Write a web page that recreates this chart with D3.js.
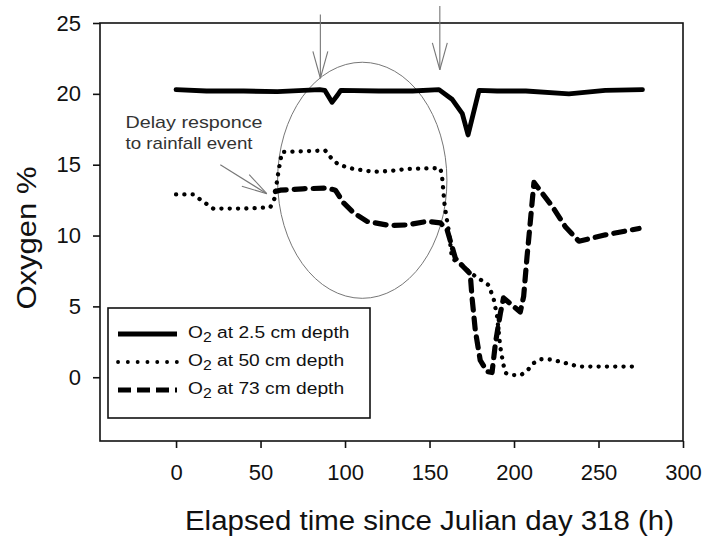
<!DOCTYPE html>
<html>
<head>
<meta charset="utf-8">
<script src="https://cdn.jsdelivr.net/npm/d3@7"></script>
<style>
  html, body { margin: 0; padding: 0; background: #fff; }
  svg { display: block; font-family: "Liberation Sans", Arial, sans-serif; }
</style>
</head>
<body>
<svg id="chart" width="704" height="541"></svg>
<script>
// ---------------- data ----------------
const xTicks = [0, 50, 100, 150, 200, 250, 300];
const yTicks = [0, 5, 10, 15, 20, 25];

const t25 = [0, 18, 40, 60, 85, 88, 92.3, 95.5, 97.5, 120, 140, 155.6, 163.5, 169.4, 172.8, 179.3, 190, 207, 232.5, 254, 276];
const v25 = [20.3, 20.2, 20.2, 20.15, 20.3, 20.25, 19.4, 19.9, 20.25, 20.2, 20.2, 20.3, 19.6, 18.6, 17.1, 20.25, 20.2, 20.2, 20.0, 20.25, 20.3];

const t50 = [0, 10, 16, 22, 40, 55.8, 58.2, 60.7, 62.7, 75, 88.3, 92.3, 96.2, 105, 116.9, 126, 136.7, 150, 156.4, 157.4, 158.8, 160, 161.3, 163.3, 170, 175, 180, 185, 188, 190, 191.8, 193.5, 195, 199, 204, 207.7, 211.6, 215.6, 222, 230.5, 238.4, 255, 274];
const v50 = [12.9, 12.9, 12.4, 11.9, 11.9, 12.0, 12.6, 14.6, 15.9, 15.95, 16.0, 15.4, 15.0, 14.7, 14.5, 14.55, 14.7, 14.75, 14.75, 14.2, 12.3, 11.3, 10.4, 8.4, 7.8, 7.3, 6.9, 6.5, 5.5, 4.3, 2.2, 1.0, 0.3, 0.15, 0.15, 0.45, 1.0, 1.27, 1.25, 1.0, 0.75, 0.75, 0.75];

const t73 = [58.8, 61.7, 75, 89.3, 94.3, 99.2, 105.1, 113, 126.8, 136.7, 148.5, 156.4, 160.4, 165.3, 170, 174.1, 175.1, 177.1, 180, 184, 187, 189, 191.9, 193.8, 203.7, 205.7, 207.7, 209.2, 211.8, 222.7, 230.5, 238.4, 254.2, 274];
const v73 = [13.1, 13.2, 13.3, 13.35, 13.2, 12.3, 11.6, 11.0, 10.7, 10.75, 11.0, 10.9, 10.4, 8.4, 7.8, 7.3, 5.7, 3.3, 1.2, 0.4, 0.33, 2.4, 4.5, 5.6, 4.6, 5.7, 8.5, 10.4, 13.75, 12.05, 10.6, 9.6, 10.05, 10.5];

const seriesNames = ["at 2.5 cm depth", "at 50 cm depth", "at 73 cm depth"];

// annotations (data units)
const arrowT = [85.4, 156.1];
const arrowTop = [25.6, 26.2];
const arrowTip = [21.1, 21.7];
const ellipseC = [110.2, 13.9];
const ellipseR = [50.1, 8.33];
const delayTail = [26.2, 15.0];
const delayTip = [53.7, 12.95];
const delayText = ["Delay responce", "to rainfall event"];
const delayTextPos = [[-29.9, 17.6], [-29.9, 16.1]];

// ---------------- chart ----------------
const svg = d3.select("#chart");
const x = d3.scaleLinear().domain([-45, 300]).range([100, 683]);
const y = d3.scaleLinear().domain([-4.5, 25]).range([441, 23]);

// frame
svg.append("rect")
  .attr("x", x(-45)).attr("y", y(25))
  .attr("width", x(300) - x(-45)).attr("height", y(-4.5) - y(25))
  .attr("fill", "none").attr("stroke", "#111").attr("stroke-width", 1.6);

// axes
const xAxis = svg.append("g").attr("transform", `translate(0,${y(-4.5)})`)
  .call(d3.axisBottom(x).tickValues(xTicks).tickSize(7).tickSizeOuter(0).tickPadding(16));
const yAxis = svg.append("g").attr("transform", `translate(${x(-45)},0)`)
  .call(d3.axisLeft(y).tickValues(yTicks).tickSize(7).tickSizeOuter(0).tickPadding(12));
[xAxis, yAxis].forEach(a => {
  a.select(".domain").remove();
  a.selectAll("line").attr("stroke", "#111").attr("stroke-width", 1.6);
  a.selectAll("text").attr("font-size", 22).attr("fill", "#111")
    .attr("font-family", '"Liberation Sans", Arial, sans-serif');
});

// axis titles
svg.append("text").attr("x", 429.5).attr("y", 530).attr("text-anchor", "middle")
  .attr("font-size", 27).attr("fill", "#111")
  .attr("textLength", 489).attr("lengthAdjust", "spacingAndGlyphs")
  .text("Elapsed time since Julian day 318 (h)");
svg.append("text").attr("transform", "translate(36,238) rotate(-90)")
  .attr("text-anchor", "middle").attr("font-size", 27).attr("fill", "#111")
  .attr("textLength", 143).attr("lengthAdjust", "spacingAndGlyphs")
  .text("Oxygen %");

// annotations: ellipse
svg.append("ellipse")
  .attr("cx", x(ellipseC[0])).attr("cy", y(ellipseC[1]))
  .attr("rx", x(ellipseC[0] + ellipseR[0]) - x(ellipseC[0]))
  .attr("ry", y(ellipseC[1]) - y(ellipseC[1] + ellipseR[1]))
  .attr("fill", "none").attr("stroke", "#777").attr("stroke-width", 1);

function arrow(x1, y1, x2, y2, len, ang) {
  const g = svg.append("g").attr("stroke", "#777").attr("stroke-width", 1.1).attr("fill", "none");
  g.append("line").attr("x1", x1).attr("y1", y1).attr("x2", x2).attr("y2", y2);
  const a = Math.atan2(y1 - y2, x1 - x2);
  [-ang, ang].forEach(d => {
    g.append("line").attr("x1", x2).attr("y1", y2)
      .attr("x2", x2 + len * Math.cos(a + d)).attr("y2", y2 + len * Math.sin(a + d));
  });
}
arrowT.forEach((t, i) => arrow(x(t), y(arrowTop[i]), x(t), y(arrowTip[i]), 28, 0.27));
arrow(x(delayTail[0]), y(delayTail[1]), x(delayTip[0]), y(delayTip[1]), 26, 0.27);

delayText.forEach((s, i) => {
  svg.append("text").attr("x", x(delayTextPos[i][0])).attr("y", y(delayTextPos[i][1]))
    .attr("font-size", 17).attr("fill", "#333")
    .attr("textLength", i === 0 ? 137 : 127).attr("lengthAdjust", "spacingAndGlyphs")
    .text(s);
});

// series
const styles = [
  { w: 4.8, dash: null, cap: "round" },
  { w: 4.3, dash: "0.1 8.2", cap: "round" },
  { w: 5.2, dash: "11 8", cap: "round" }
];
const series = [[t25, v25], [t50, v50], [t73, v73]];
const line = d3.line().x(d => x(d[0])).y(d => y(d[1]));
series.forEach(([ts, vs], i) => {
  const pts = ts.map((t, j) => [t, vs[j]]);
  const p = svg.append("path").datum(pts).attr("d", line)
    .attr("fill", "none").attr("stroke", "#000")
    .attr("stroke-width", styles[i].w).attr("stroke-linejoin", "round")
    .attr("stroke-linecap", styles[i].cap);
  if (styles[i].dash) p.attr("stroke-dasharray", styles[i].dash);
});

// legend
const lg = svg.append("g");
lg.append("rect").attr("x", 108).attr("y", 308).attr("width", 262).attr("height", 110)
  .attr("fill", "#fff").attr("stroke", "#111").attr("stroke-width", 1.6);
const legendDash = [null, "0.1 9.7", "13 6"];
const legendW = [4.8, 3.8, 5];
seriesNames.forEach((name, i) => {
  const yy = 334 + i * 28;
  const l = lg.append("line").attr("x1", 118).attr("x2", 177).attr("y1", yy).attr("y2", yy)
    .attr("stroke", "#000").attr("stroke-width", legendW[i])
    .attr("stroke-linecap", i === 1 ? "round" : "butt");
  if (legendDash[i]) l.attr("stroke-dasharray", legendDash[i]);
  const txt = lg.append("text").attr("transform", `translate(188,${yy + 4}) scale(1.13,1)`)
    .attr("font-size", 17).attr("fill", "#111");
  txt.append("tspan").text("O");
  txt.append("tspan").attr("font-size", 14).attr("dy", 4).text("2");
  txt.append("tspan").attr("dy", -4).text(" " + name);
});
</script>
</body>
</html>
